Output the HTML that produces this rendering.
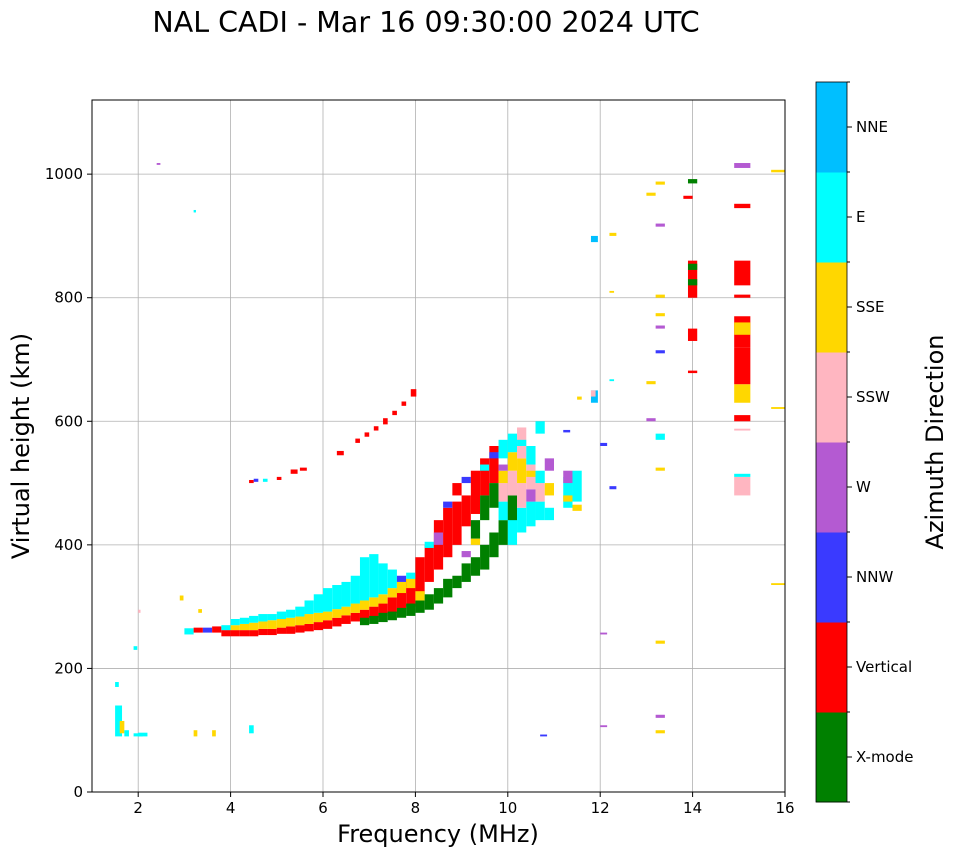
<!DOCTYPE html>
<html><head><meta charset="utf-8">
<style>
html,body{margin:0;padding:0;background:#fff;}
svg{display:block;font-family:"DejaVu Sans","Liberation Sans",sans-serif;}
</style></head>
<body>
<svg id="chart" width="958" height="857" viewBox="0 0 958 857">
  <rect x="0" y="0" width="958" height="857" fill="#fff"/>
  <text x="426" y="32" font-size="28.5" text-anchor="middle">NAL CADI - Mar 16 09:30:00 2024 UTC</text>
  <defs><clipPath id="plotclip"><rect x="92" y="100" width="693" height="692"/></clipPath></defs>
  <g id="grid"></g>
  <g id="marks" clip-path="url(#plotclip)"></g>
  <rect x="92" y="100" width="693" height="692" fill="none" stroke="#000" stroke-width="1"/>
  <g id="xticks"></g>
  <g id="yticks"></g>
  <text x="438" y="842" font-size="24" text-anchor="middle">Frequency (MHz)</text>
  <text transform="translate(29,446) rotate(-90)" font-size="24" text-anchor="middle">Virtual height (km)</text>
  <g id="cbar"></g>
  <text transform="translate(943,442) rotate(-90)" font-size="24" text-anchor="middle">Azimuth Direction</text>
</svg>
<script>
const xTicks = [2,4,6,8,10,12,14,16];
const yTicks = [0,200,400,600,800,1000];
const dirNames = ["X-mode","Vertical","NNW","W","SSW","SSE","E","NNE"];
const dirColors = ["#008000","#ff0000","#3a3aff","#b45ad2","#ffb6c1","#ffd700","#00ffff","#00bfff"];
// [freqLeft MHz, h0 km, h1 km, dirIndex, widthMHz]
const mainTrace = [
[3.0,255,265,6,0.2],[3.2,258,266,1,0.2],[3.4,258,266,2,0.2],[3.6,258,268,1,0.2],
[3.8,252,262,1,0.2],[3.8,262,270,6,0.2],
[4.0,252,262,1,0.2],[4.0,262,270,5,0.2],[4.0,270,280,6,0.2],
[4.2,252,262,1,0.2],[4.2,262,272,5,0.2],[4.2,272,282,6,0.2],
[4.4,252,262,1,0.2],[4.4,262,274,5,0.2],[4.4,274,285,6,0.2],
[4.6,254,264,1,0.2],[4.6,264,276,5,0.2],[4.6,276,288,6,0.2],
[4.8,254,264,1,0.2],[4.8,264,278,5,0.2],[4.8,278,288,6,0.2],
[5.0,256,266,1,0.2],[5.0,266,280,5,0.2],[5.0,280,292,6,0.2],
[5.2,256,268,1,0.2],[5.2,268,282,5,0.2],[5.2,282,295,6,0.2],
[5.4,258,270,1,0.2],[5.4,270,284,5,0.2],[5.4,284,300,6,0.2],
[5.6,260,272,1,0.2],[5.6,272,288,5,0.2],[5.6,288,310,6,0.2],
[5.8,262,275,1,0.2],[5.8,275,290,5,0.2],[5.8,290,320,6,0.2],
[6.0,264,278,1,0.2],[6.0,278,292,5,0.2],[6.0,292,330,6,0.2],
[6.2,268,282,1,0.2],[6.2,282,296,5,0.2],[6.2,296,335,6,0.2],
[6.4,272,286,1,0.2],[6.4,286,300,5,0.2],[6.4,300,340,6,0.2],
[6.6,276,290,1,0.2],[6.6,290,305,5,0.2],[6.6,305,350,6,0.2],
[6.8,278,295,1,0.2],[6.8,295,310,5,0.2],[6.8,310,380,6,0.2],[6.8,270,282,0,0.2],
[7.0,282,300,1,0.2],[7.0,300,315,5,0.2],[7.0,315,385,6,0.2],[7.0,272,285,0,0.2],
[7.2,285,305,1,0.2],[7.2,305,320,5,0.2],[7.2,320,370,6,0.2],[7.2,275,290,0,0.2],
[7.4,290,315,1,0.2],[7.4,315,330,5,0.2],[7.4,330,360,6,0.2],[7.4,278,292,0,0.2],
[7.6,295,330,1,0.2],[7.6,322,340,5,0.2],[7.6,282,298,0,0.2],[7.6,340,350,2,0.2],
[7.8,300,345,1,0.2],[7.8,330,345,5,0.2],[7.8,285,305,0,0.2],[7.8,345,355,6,0.2],
[8.0,320,380,1,0.2],[8.0,290,310,0,0.2],[8.0,310,325,5,0.2],
[8.2,340,400,1,0.2],[8.2,295,320,0,0.2],[8.2,395,405,6,0.2],
[8.4,360,440,1,0.2],[8.4,305,330,0,0.2],[8.4,400,420,3,0.2],
[8.6,380,460,1,0.2],[8.6,315,345,0,0.2],[8.6,460,470,2,0.2],
[8.8,400,470,1,0.2],[8.8,330,350,0,0.2],[8.8,480,500,1,0.2],
[9.0,430,480,1,0.2],[9.0,340,370,0,0.2],[9.0,380,390,3,0.2],[9.0,500,510,2,0.2],
[9.2,450,520,1,0.2],[9.2,350,380,0,0.2],[9.2,410,440,0,0.2],[9.2,400,410,5,0.2],
[9.4,360,400,0,0.2],[9.4,480,540,1,0.2],[9.4,440,480,0,0.2],[9.4,520,530,6,0.2],
[9.6,380,420,0,0.2],[9.6,500,560,1,0.2],[9.6,540,550,2,0.2],[9.6,460,500,0,0.2],
[9.8,400,440,0,0.2],[9.8,440,470,6,0.2],[9.8,470,500,4,0.2],[9.8,500,520,5,0.2],[9.8,540,570,6,0.2],[9.8,520,530,3,0.2],
[10.0,400,450,6,0.2],[10.0,440,480,0,0.2],[10.0,480,520,4,0.2],[10.0,520,550,5,0.2],[10.0,550,580,6,0.2],
[10.2,420,460,6,0.2],[10.2,460,500,4,0.2],[10.2,500,540,5,0.2],[10.2,540,590,4,0.2],[10.2,560,570,6,0.2],
[10.4,430,470,6,0.2],[10.4,470,490,3,0.2],[10.4,490,530,4,0.2],[10.4,530,560,6,0.2],[10.4,510,520,5,0.2],
[10.6,440,470,6,0.2],[10.6,470,500,4,0.2],[10.6,500,520,6,0.2],[10.6,580,600,6,0.2],
[10.8,440,460,6,0.2],[10.8,480,500,5,0.2],[10.8,520,540,3,0.2],
[11.2,460,510,6,0.2],[11.2,500,520,3,0.2],[11.2,470,480,5,0.2],
[11.4,470,520,6,0.2],[11.4,455,465,5,0.2]
];
const scatterEchoes = [
[6.3,545,552,1,0.15],[6.7,565,572,1,0.1],[6.9,575,582,1,0.1],[7.1,585,592,1,0.1],[7.3,595,605,1,0.1],[7.5,610,617,1,0.1],[7.7,625,632,1,0.1],[7.9,640,652,1,0.12],
[4.4,500,505,1,0.1],[4.5,502,507,2,0.1],[4.7,502,507,6,0.1],[5.0,505,510,1,0.1],[5.3,515,522,1,0.15],[5.5,520,525,1,0.15],
[1.5,90,140,6,0.15],[1.5,170,178,6,0.08],[1.6,95,115,5,0.1],[1.7,90,100,6,0.1],[1.9,90,95,6,0.2],[2.0,90,96,6,0.2],[3.2,90,100,5,0.08],[3.6,90,100,5,0.08],[4.4,95,108,6,0.1],[1.9,230,236,6,0.08],[2.0,290,295,4,0.05],[2.4,1015,1018,3,0.08],[3.2,938,942,6,0.05],[2.9,310,318,5,0.08],[3.3,290,296,5,0.08],
[11.8,890,900,7,0.15],[11.8,630,650,7,0.15],[11.8,640,650,4,0.1],[12.2,900,905,5,0.15],[11.5,635,640,5,0.1],[12.2,665,668,6,0.1],[12.2,808,811,5,0.1],
[13.2,770,775,5,0.2],[13.2,750,755,3,0.2],[13.2,710,715,2,0.2],[13.2,570,580,6,0.2],[13.2,520,525,5,0.2],[13.2,120,125,3,0.2],[13.2,95,100,5,0.2],[13.2,240,245,5,0.2],[13.0,600,605,3,0.2],[13.0,660,665,5,0.2],[13.2,915,920,3,0.2],[13.2,983,988,5,0.2],[13.0,965,970,5,0.2],[13.2,800,805,5,0.2],
[13.8,960,965,1,0.2],[13.9,985,992,0,0.2],[13.9,730,750,1,0.2],[13.9,800,860,1,0.2],[13.9,820,830,0,0.2],[13.9,845,855,0,0.2],[13.9,678,682,1,0.2],
[14.9,600,610,1,0.35],[14.9,630,660,5,0.35],[14.9,660,720,1,0.35],[14.9,720,770,1,0.35],[14.9,740,760,5,0.35],[14.9,800,805,1,0.35],[14.9,820,860,1,0.35],[14.9,480,510,4,0.35],[14.9,510,515,6,0.35],[14.9,945,952,1,0.35],[14.9,1010,1018,3,0.35],[14.9,585,588,4,0.35],
[15.7,1003,1007,5,0.4],[15.7,620,623,5,0.4],[15.7,335,338,5,0.4],[10.7,90,93,2,0.15],[12.0,105,108,3,0.15],[12.0,255,258,3,0.15],[12.2,490,495,2,0.15],[12.0,560,565,2,0.15],[11.2,582,586,2,0.15]
];
const NS="http://www.w3.org/2000/svg";
const X0=92,X1=785,Y0=792,Y1=100,FMIN=1,FMAX=16,HMIN=0,HMAX=1120;
function xs(f){return X0+(f-FMIN)/(FMAX-FMIN)*(X1-X0);}
function ys(h){return Y0-(h-HMIN)/(HMAX-HMIN)*(Y0-Y1);}
function mk(tag,attrs,parent){const e=document.createElementNS(NS,tag);for(const k in attrs)e.setAttribute(k,attrs[k]);parent.appendChild(e);return e;}
const grid=document.getElementById('grid'),marks=document.getElementById('marks'),gx=document.getElementById('xticks'),gy=document.getElementById('yticks'),cb=document.getElementById('cbar');
xTicks.forEach(t=>{const x=xs(t);
 const l=mk('line',{x1:x,x2:x,y1:Y1,y2:Y0,stroke:'#b0b0b0','stroke-width':0.8},grid);
 
 
 mk('line',{x1:x,x2:x,y1:Y0,y2:Y0+5,stroke:'#000'},gx);
 const tx=mk('text',{x:x,y:Y0+21,'font-size':15,'text-anchor':'middle'},gx);tx.textContent=t;
 
 });
yTicks.forEach(t=>{const y=ys(t);
 const l=mk('line',{x1:X0,x2:X1,y1:y,y2:y,stroke:'#b0b0b0','stroke-width':0.8},grid);
 
 
 mk('line',{x1:X0-5,x2:X0,y1:y,y2:y,stroke:'#000'},gy);
 const tx=mk('text',{x:X0-9,y:y+5,'font-size':15,'text-anchor':'end'},gy);tx.textContent=t;
 
 });
function drawSet(arr){arr.forEach(d=>{
 const x=xs(d[0]),w=Math.max(1,xs(d[0]+d[4])-x),y=ys(d[2]),h=Math.max(1.5,ys(d[1])-y);
 const r=mk('rect',{x:x,y:y,width:w,height:h,fill:dirColors[d[3]]},marks);
 
 });}
drawSet(mainTrace);drawSet(scatterEchoes);
const CBX=816,CBW=31,CBT=82,CBB=802,seg=(CBB-CBT)/dirNames.length;
dirNames.forEach((n,i)=>{const y=CBB-(i+1)*seg;
 const r=mk('rect',{x:CBX,y:y,width:CBW,height:seg+0.5,fill:dirColors[i]},cb);
 
 
 const yc=y+seg/2;
 mk('line',{x1:CBX+CBW,x2:CBX+CBW+5,y1:yc,y2:yc,stroke:'#000'},cb);
 const tx=mk('text',{x:CBX+CBW+9,y:yc+5,'font-size':15},cb);tx.textContent=n;
 
 });
for(let i=0;i<=dirNames.length;i++){const y=CBB-i*seg;mk('line',{x1:CBX+CBW,x2:CBX+CBW+3,y1:y,y2:y,stroke:'#000'},cb);}
mk('rect',{x:CBX,y:CBT,width:CBW,height:CBB-CBT,fill:'none',stroke:'#000','stroke-width':0.8},cb);
</script>
</body></html>
